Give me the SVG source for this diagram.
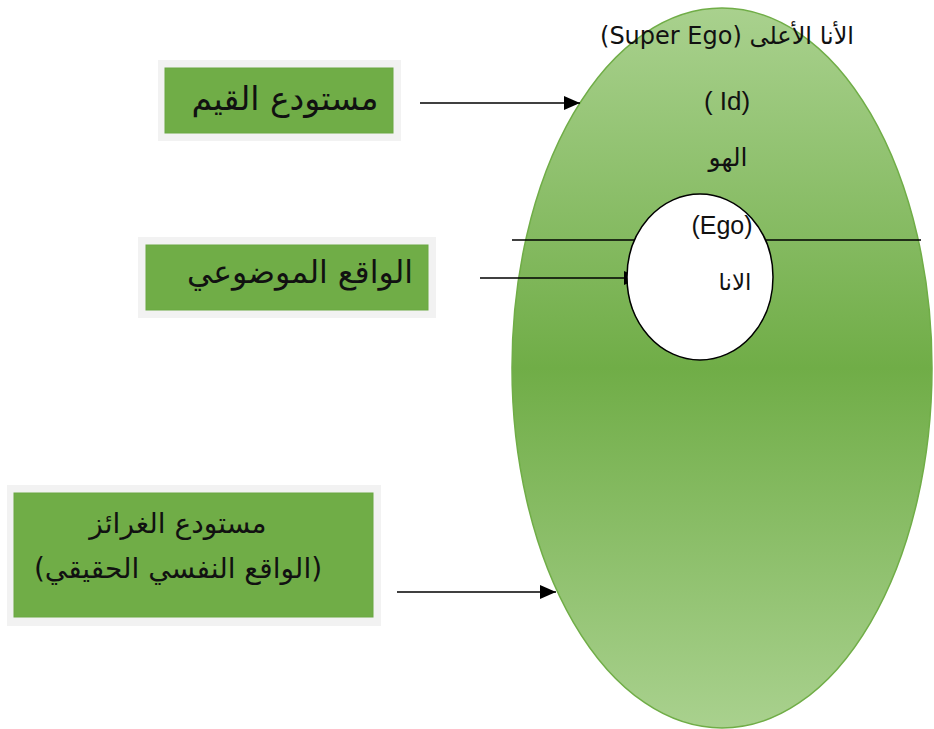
<svg xmlns="http://www.w3.org/2000/svg" width="934" height="729" viewBox="0 0 934 729">
<defs>
<linearGradient id="g" x1="0" y1="0" x2="0" y2="1">
<stop offset="0" stop-color="#a9d18e"/>
<stop offset="0.5" stop-color="#70ad47"/>
<stop offset="1" stop-color="#a9d18e"/>
</linearGradient>
<marker id="ah" markerWidth="16" markerHeight="14" refX="16" refY="7" orient="auto" markerUnits="userSpaceOnUse">
<path d="M0,0 L16,7 L0,14 Z" fill="#000"/>
</marker>
<style>
.outer{fill:#f2f2f2}
.inner{fill:#70ad47;stroke:#6aa842;stroke-width:1}
.t{font-family:"Liberation Sans","DejaVu Sans",sans-serif;fill:#111}
.ar{font-family:"DejaVu Sans","Noto Sans",sans-serif;fill:#111}
.c{stroke:#000;stroke-width:1.5;fill:none}
</style>
</defs>
<rect width="934" height="729" fill="#fff"/>
<g id="id-ellipse">
<ellipse cx="722" cy="368" rx="210" ry="360" fill="url(#g)" stroke="#70ad47" stroke-width="1.5"/>
</g>
<g id="connectors">
<line class="c" x1="512" y1="240" x2="921" y2="240"/>
<line class="c" x1="420" y1="103" x2="580" y2="103" marker-end="url(#ah)"/>
<line class="c" x1="480" y1="278" x2="640" y2="278" marker-end="url(#ah)"/>
<line class="c" x1="397" y1="592" x2="556" y2="592" marker-end="url(#ah)"/>
</g>
<g id="ego">
<ellipse cx="700" cy="277" rx="73" ry="83" fill="#fff" stroke="#000" stroke-width="1.5"/>
<text class="t" x="722" y="234" font-size="25" text-anchor="middle">(Ego)</text>
<text class="ar" x="735" y="290" font-size="23" text-anchor="middle">الانا</text>
</g>
<g id="labels">
<text class="ar" x="727" y="44" font-size="24" text-anchor="middle" direction="rtl">الأنا الأعلى (Super Ego)</text>
<text class="t" x="727" y="110" font-size="26" text-anchor="middle">( Id)</text>
<text class="ar" x="728" y="166" font-size="25" text-anchor="middle">الهو</text>
</g>
<g id="box-values">
<rect class="outer" x="158" y="60" width="243" height="81"/>
<rect class="inner" x="165" y="68" width="228" height="65"/>
<text class="ar" x="285" y="110" font-size="33" text-anchor="middle">مستودع القيم</text>
</g>
<g id="box-reality">
<rect class="outer" x="138" y="237" width="298" height="81"/>
<rect class="inner" x="146" y="245" width="282" height="65"/>
<text class="ar" x="300" y="283" font-size="31.5" text-anchor="middle">الواقع الموضوعي</text>
</g>
<g id="box-instincts">
<rect class="outer" x="7" y="485" width="374" height="141"/>
<rect class="inner" x="14" y="493" width="359" height="124"/>
<text class="ar" x="178" y="533" font-size="28" text-anchor="middle">مستودع الغرائز</text>
<text class="ar" x="178" y="578" font-size="28" text-anchor="middle" direction="rtl">(الواقع النفسي الحقيقي)</text>
</g>
</svg>
